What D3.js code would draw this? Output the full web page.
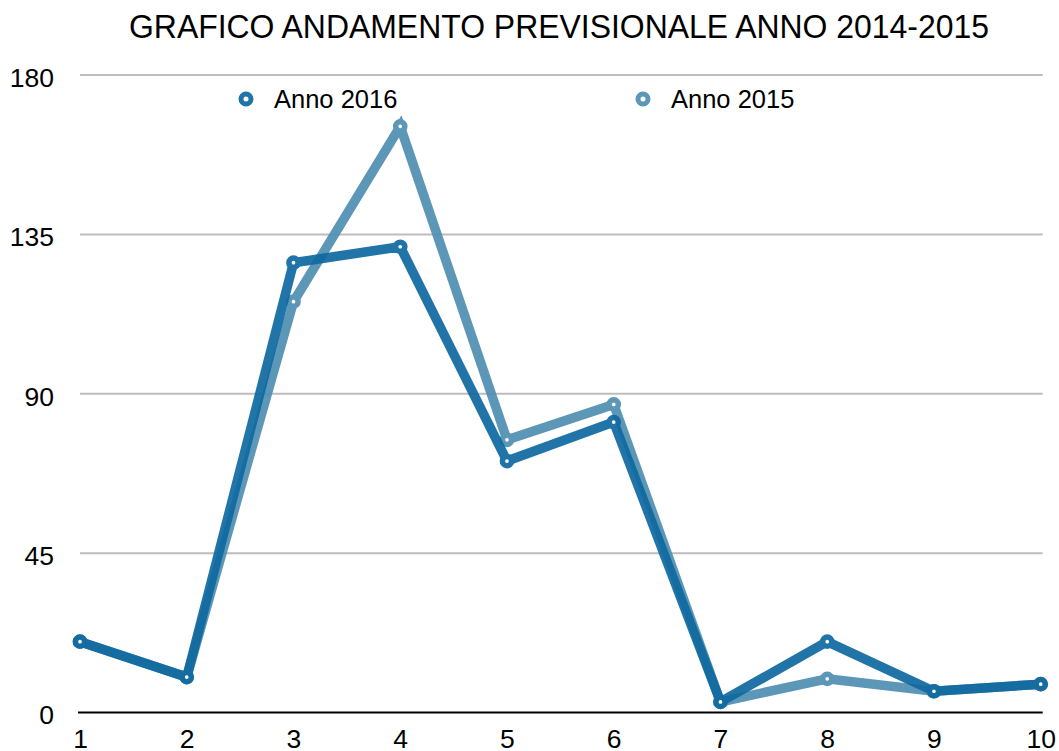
<!DOCTYPE html>
<html>
<head>
<meta charset="utf-8">
<script src="https://cdn.jsdelivr.net/npm/d3@7"></script>
<style>
  body { margin: 0; background: #fff; }
  text { font-family: "Liberation Sans", Arial, Helvetica, sans-serif; fill: #000; }
</style>
</head>
<body>
<div id="chart"></div>
<script>
var mesi = [1, 2, 3, 4, 5, 6, 7, 8, 9, 10];
var anno2016 = [20, 10, 127, 131.5, 71, 82, 3, 20, 6, 8];
var anno2015 = [20, 10, 116, 165.5, 77, 87, 3, 9.5, 6, 8];
var yTicks = [0, 45, 90, 135, 180];
var titolo = "GRAFICO ANDAMENTO PREVISIONALE ANNO 2014-2015";

var width = 1059;
var height = 751;

var xLeft = 80, xRight = 1040.7;
var yTop = 75, yBottom = 712.5;

var svg = d3.select("#chart").append("svg")
  .attr("width", width)
  .attr("height", height);

var x = d3.scaleLinear().domain([1, 10]).range([xLeft, xRight]);
var y = d3.scaleLinear().domain([0, 180]).range([yBottom, yTop]);

// title
svg.append("text")
  .attr("x", 559)
  .attr("y", 37.5)
  .attr("text-anchor", "middle")
  .attr("textLength", 860)
  .attr("lengthAdjust", "spacingAndGlyphs")
  .style("font-size", "33px")
  .text(titolo);

// gridlines
svg.append("g").selectAll("line")
  .data(yTicks.filter(function(d){ return d > 0; }))
  .enter().append("line")
  .attr("x1", xLeft)
  .attr("x2", xRight + 2)
  .attr("y1", function(d){ return y(d); })
  .attr("y2", function(d){ return y(d); })
  .attr("stroke", "#bdbdbd")
  .attr("stroke-width", 2);

// y axis labels
var yAxis = d3.axisLeft(y).tickValues(yTicks).tickSize(0).tickPadding(0);
var gy = svg.append("g").attr("transform", "translate(54,0)").call(yAxis);
gy.select(".domain").remove();
gy.selectAll("text")
  .attr("dy", "0.43em")
  .style("font-size", "26.5px")
  .style("font-family", "Liberation Sans, Arial, sans-serif")
  .attr("fill", "#000");

// x axis
var xAxis = d3.axisBottom(x).tickValues(mesi).tickSize(0).tickPadding(0).tickFormat(d3.format("d"));
var gx = svg.append("g").attr("transform", "translate(0," + yBottom + ")").call(xAxis);
gx.select(".domain").remove();
gx.selectAll("text")
  .attr("y", 35.5)
  .attr("dy", 0)
  .style("font-size", "26.5px")
  .style("font-family", "Liberation Sans, Arial, sans-serif")
  .attr("fill", "#000");

svg.append("line")
  .attr("x1", xLeft - 2)
  .attr("x2", xRight + 2)
  .attr("y1", y(0))
  .attr("y2", y(0))
  .attr("stroke", "#000")
  .attr("stroke-width", 2);

// series
var serie = [
  { nome: "Anno 2015", valori: anno2015, colore: "#4f8fb2", lx: 643 },
  { nome: "Anno 2016", valori: anno2016, colore: "#0f69a0", lx: 246 }
];

var line = d3.line()
  .x(function(d, i){ return x(mesi[i]); })
  .y(function(d){ return y(d); });

serie.forEach(function(s){
  var g = svg.append("g").attr("opacity", 0.92);
  g.append("path")
    .attr("d", line(s.valori))
    .attr("fill", "none")
    .attr("stroke", s.colore)
    .attr("stroke-width", 9.5)
    .attr("stroke-linejoin", "miter");
  g.selectAll("circle")
    .data(s.valori)
    .enter().append("circle")
    .attr("cx", function(d, i){ return x(mesi[i]); })
    .attr("cy", function(d){ return y(d); })
    .attr("r", 4.6)
    .attr("fill", "#fff")
    .attr("stroke", s.colore)
    .attr("stroke-width", 5.5);
});

// legend
var leg = svg.append("g");
serie.forEach(function(s){
  leg.append("circle")
    .attr("cx", s.lx)
    .attr("cy", 99)
    .attr("r", 5)
    .attr("fill", "#fff")
    .attr("stroke", s.colore)
    .attr("stroke-width", 5)
    .attr("opacity", 0.92);
  leg.append("text")
    .attr("x", s.lx + 28)
    .attr("y", 108)
    .style("font-size", "25.5px")
    .text(s.nome);
});
</script>
</body>
</html>
